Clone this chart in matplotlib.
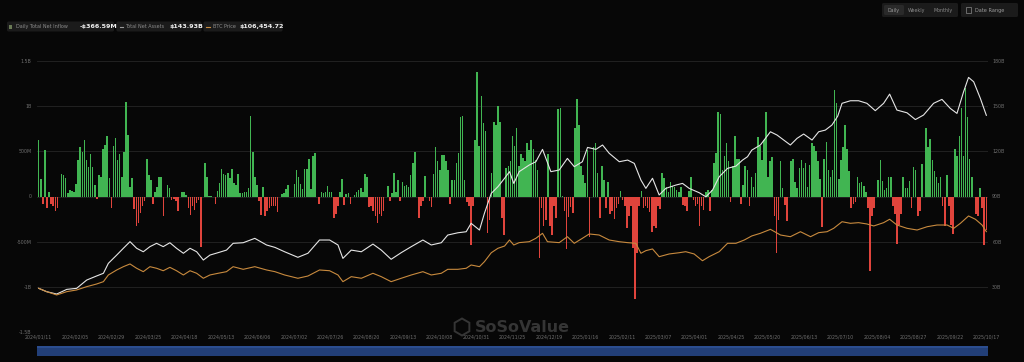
import numpy as np
import matplotlib
matplotlib.use("Agg")
import matplotlib.pyplot as plt
from matplotlib.patches import Rectangle, FancyBboxPatch, RegularPolygon

# Daily total net inflow (M USD)
inflow_2024a = [630, 190, -80, 520, -130, 45, -80, -110, -155, -130,
                0, 250, 240, 200, 35, 75, 65, 55, 140, 400,
                550, 490, 630, 400, 330, 470, 325, 130, -30, 240,
                220, 525, 575, 665, 200, -130, 560, 650, 400, 475,
                215, 495, 1045, 685, 100, 200, -140, -325, -290, -185,
                -110, -55, 415, 240, 185, -80, 45, 110, 220, 215,
                -220, 0, 130, 90, -37, -30, -55, -165, 0, 55,
                55, 18, -130, -200, -110, -150, -75, -37, -560, 0,
                375, 215, 5, 5, -5, -80, 65, 150, 305, 250,
                240, 260, 200, 305, 150, 130, 250, 35, 35, 45,
                45, 90, 890, 490, 215, 130, -55, -200, 100, -220,
                -165, -130, -110, -110]
inflow_2024b = [-110, -175, 0, 30, 35, 80, 125, -7, -7, 140,
                295, 220, 140, 80, 305, 305, 420, 80, 445,
                480, 0, -80, 45, 35, 45, 120, 45, 45,
                -240, -195, -110, 45, 190, -95, 30, 35, -80, 0,
                22, 55, 75, 90, 45, 250, 215, -120, -110,
                -155, -220, -290, -195, -215, -165, 0, 120, -55, 35,
                260, 50, 185, -55, 155, 120, 130, 110, 240,
                370, 490, 0, -240, -110, -45, 230, 0, -55,
                -120, 250, 550, 390, 295, 460, 460, 390, 295, -80,
                185, 185, 375, 480, 880, 895, 185, -65, -100, -535,
                -100, 630, 1375, 555, 1115, 815, 720, -400, -260, 260,
                830, 795, 1005, 830, -240, -425]
inflow_2025a = [315, 335, 390, 675, 560, 760, 340, 475, 425, 390,
                590, 510, 630, 525, 405, 295, -685, -130, -325, -260,
                475, -330, -425, -110, -240, 970, 980, 5, -165, -585,
                -230, -120, -185, 760, 1075, 795, 340, 240, 150, 510,
                -445, 0, 550, 590, 260, -240, 335, 185, -130,
                165, -195, -165, -250, -130, -80, 65, -37, -110, -350,
                -220, -110, -575, -1140, -630, -110, 65, -130, -110, -130,
                -175, -390, -330, -350, -110, -140, 265, 200, 110,
                55, 165, 120, 100, 75, 55, 110, -90, -100, -165,
                65, 220, -37, -110, -80, -325, -110, -150, 55, 75,
                -165, 75, 375, 480, 930, 915, 295, 445, 590,
                390, -65, 335, 675, 415, 415, -80, 130, 335, 295]
inflow_2025b = [-100, 215, 110, 260, 660, 555, 405, 630, 930, 215,
                390, 435, -220, -620, -265, 390, 90, -90, -275, 0,
                390, 415, 165, 90, 315, 405, 315, 375, 110, 350,
                590, 555, 500, 390, 190, -340, 415, 600, 295,
                215, 295, 1175, 1035, 190, 405, 550, 795, 525, 280,
                -130, -80, -65, 220, 150, 165, 120, 55, -130,
                -820, -220, -130, 0, 185, 405, 175, 75, 90, 220,
                220, -110, -195, -525, -315, -195, 220, 90, 90,
                175, -130, 325, 295, -220, -165, 360, 0, 760,
                550, 635, 405, 280, 220, 150, 215, -100, -330, 240,
                -110, -315, -415, 525, 445, 675, 980, 445, 1200, 880,
                415, 220, 0, -195, -220, 90, -130, -535, -367]
inflow = np.array(inflow_2024a + inflow_2024b + inflow_2025a + inflow_2025b) / 1000.0  # in B

# Total net assets (B USD), sampled along the trading-day scale 0..442
nav_day = [0, 3.7, 8.4, 13.1, 17.7, 22.4, 27.0, 30.2, 32.5, 36.4, 39.5, 42.6, 45.7, 48.8, 51.9,
           55.0, 58.1, 61.2, 64.3, 67.5, 70.6, 73.7, 76.8, 79.9, 83.7, 87.6, 90.7, 95.4, 100.8,
           106.3, 110.2,
           114.7, 120.9, 125.6, 131.0, 135.7, 139.6, 141.9, 145.8, 150.5, 155.9, 159.8, 164.4,
           169.1, 173.8, 179.2, 183.1, 187.8, 190.8, 195.5, 199.4, 201.7, 205.6, 207.9, 211.1,
           214.2, 217.3, 219.6, 221.6,
           224.1, 228.8, 231.9, 235.0, 238.9, 242.8, 246.6, 249.8, 253.6, 256.0, 259.9, 263.0,
           266.1, 270.8, 274.7, 277.8, 280.9, 283.2, 286.3, 289.4, 292.5, 297.2, 300.3, 303.4,
           308.1, 311.2, 314.3, 317.4, 321.3, 325.2, 328.3, 330.6, 332.6,
           336.6, 341.3, 344.4, 347.5, 350.6, 353.7, 356.8, 360.7, 363.8, 366.9, 370.0, 372.7,
           374.7, 378.6, 382.4, 386.3, 390.2, 394.1, 396.9, 400.3, 405.0, 408.9, 412.7, 417.4,
           421.3, 425.2, 428.3, 431.4, 433.7, 436.1, 439.2, 442]
nav_b = [29.0, 26.8, 25.2, 28.3, 29.0, 34.5, 37.2, 39.0, 45.6, 51.1, 55.6, 60.0, 55.6, 53.3, 56.7,
         58.9, 56.7, 59.3, 55.6, 52.3, 55.6, 53.3, 47.8, 51.1, 52.7, 54.4, 58.9, 59.3, 62.2,
         57.8, 56.2,
         53.3, 49.6, 52.3, 61.1, 61.1, 57.8, 48.9, 54.4, 53.3, 58.4, 54.4, 48.3,
         52.7, 56.7, 61.1, 57.8, 59.3, 64.4, 65.9, 66.6, 72.2, 67.7, 78.8, 92.1,
         96.5, 102.1, 106.5, 98.7,
         106.5, 110.9, 113.1, 121.3, 106.5, 107.6, 115.3, 109.8, 113.1, 122.6, 121.3, 124.2,
         118.7, 113.1, 114.2, 112.0, 100.9, 95.4, 102.1, 91.0, 95.4, 97.6, 98.7, 95.4,
         92.5, 89.8, 94.3, 103.1, 108.7, 110.2, 114.2, 116.4, 120.8,
         124.2, 133.0, 130.8, 127.5, 124.2, 128.6, 131.5, 127.5, 133.0, 134.1, 137.5, 143.4,
         151.9, 153.6, 153.6, 151.9, 147.0, 151.9, 158.0, 147.4, 145.6, 141.1, 144.1, 151.9,
         154.5, 148.5, 145.2, 159.6, 169.1, 166.2, 155.2, 143.93]

# BTC price (thousand USD)
btc_day = [0, 3.7, 8.4, 13.1, 17.7, 22.4, 27.0, 30.2, 32.5, 36.4, 39.5, 42.6, 45.7, 48.8, 51.9,
           55.0, 58.1, 61.2, 64.3, 67.5, 70.6, 73.7, 76.8, 79.9, 83.7, 87.6, 90.7, 95.4, 100.8,
           106.3, 110.2,
           114.7, 120.9, 125.6, 131.0, 135.7, 139.6, 141.9, 145.8, 150.5, 155.9, 159.8, 164.4,
           169.1, 173.8, 179.2, 183.1, 187.8, 190.8, 195.5, 199.4, 201.7, 205.6, 207.9, 211.1,
           214.2, 217.3, 219.6, 221.6,
           224.1, 228.8, 231.9, 235.0, 237.3, 242.8, 246.6, 249.8, 253.6, 256.8, 261.4, 266.1,
           270.8, 274.7, 278.5, 280.9, 283.2, 286.3, 289.4, 294.1, 298.7, 301.8, 305.7, 309.6,
           312.7, 317.4, 321.3, 325.2, 329.1, 332.6,
           336.6, 341.3, 346.0, 350.6, 355.3, 360.0, 363.8, 367.7, 370.8, 374.7, 378.6, 382.4,
           386.3, 389.5, 394.1, 396.9, 400.3, 405.0, 409.7, 414.4, 419.0, 423.7, 426.8, 429.9,
           433.7, 436.9, 440.0, 442]
btc_k = [46.4, 42.8, 39.3, 42.8, 44.6, 48.1, 50.9, 53.4, 60.5, 65.8, 69.3, 72.2, 67.6, 64.0, 69.3,
         67.6, 65.0, 68.6, 65.0, 60.5, 65.0, 62.3, 57.0, 60.5, 62.3, 64.0, 69.3, 66.5, 69.3,
         65.8, 64.0,
         60.5, 57.0, 59.4, 65.8, 65.0, 60.5, 53.4, 58.7, 57.0, 62.3, 58.7, 53.4,
         57.0, 60.5, 64.0, 60.5, 62.3, 66.5, 66.5, 67.6, 71.1, 69.3, 74.6, 84.1,
         88.8, 91.2, 97.6, 92.3,
         94.8, 95.8, 99.4, 104.7, 95.8, 94.8, 101.1, 94.1, 99.4, 104.0, 102.9, 97.6,
         95.8, 94.8, 94.1, 83.5, 86.3, 88.1, 79.9, 82.8, 84.1, 85.2, 82.8, 75.6,
         79.9, 85.2, 94.1, 94.1, 97.6, 101.9,
         104.7, 108.9, 102.9, 101.1, 106.4, 101.1, 105.4, 106.4, 110.0, 117.0, 115.3, 116.0,
         114.6, 112.5, 116.0, 119.6, 113.5, 110.0, 108.2, 111.7, 113.5, 113.5, 110.0, 115.3,
         123.1, 119.6, 113.5, 106.45]

date_labels = ["2024/01/11", "2024/02/05", "2024/02/29", "2024/03/25", "2024/04/18",
               "2024/05/13", "2024/06/06", "2024/07/02", "2024/07/26", "2024/08/20",
               "2024/09/13", "2024/10/08", "2024/10/31", "2024/11/25", "2024/12/19",
               "2025/01/16", "2025/02/11", "2025/03/07", "2025/04/01", "2025/04/25",
               "2025/05/20", "2025/06/13", "2025/07/10", "2025/08/04", "2025/08/27",
               "2025/09/22", "2025/10/17"]
left_ticks = [1.5, 1, 0.5, 0, -0.5, -1, -1.5]
left_labels = ["1.5B", "1B", "500M", "0", "-500M", "-1B", "-1.5B"]
right_ticks = [180, 150, 120, 90, 60, 30]
right_labels = ["180B", "150B", "120B", "90B", "60B", "30B"]

BG = "#070707"
GREEN = "#41b552"
RED = "#e0443c"
TICK = "#6f6f6f"
W, H = 1024, 362

fig = plt.figure(figsize=(W / 100, H / 100), dpi=100, facecolor=BG)
ax = fig.add_axes([37 / W, 1 - 332 / H, 951 / W, 271 / H])
ax.set_facecolor(BG)

n = len(inflow)
x = np.arange(n)
scale = (n - 1) / 442.0
colors = np.where(inflow >= 0, GREEN, RED)
ax.bar(x, inflow, width=0.75, color=colors, linewidth=0, zorder=2)
ax.set_xlim(-0.8, n - 0.2)
ax.set_ylim(-1.5, 1.5)
ax.set_yticks(left_ticks)
ax.set_yticklabels(left_labels)
ax.grid(axis="y", color="#262626", linewidth=0.6, zorder=0)
ax.set_xticks(np.linspace(0, n - 1, len(date_labels)))
ax.set_xticklabels(date_labels)
ax.tick_params(axis="both", length=0, colors=TICK, labelsize=3.4)
ax.tick_params(axis="y", pad=4)
ax.tick_params(axis="x", pad=1.5)
for s in ax.spines.values():
    s.set_visible(False)

ax2 = ax.twinx()
ax2.set_ylim(0, 180)
ax2.set_yticks(right_ticks)
ax2.set_yticklabels(right_labels)
ax2.tick_params(axis="y", length=0, colors=TICK, labelsize=3.4, pad=3)
ax2.plot(np.array(nav_day) * scale, nav_b, color="#e6e6e6", linewidth=0.8, zorder=4)
for s in ax2.spines.values():
    s.set_visible(False)

ax3 = ax.twinx()
ax3.set_ylim(0, 287.5)
ax3.axis("off")
ax3.plot(np.array(btc_day) * scale, btc_k, color="#c88a3e", linewidth=0.8, zorder=3)

# overlay in pixel coordinates for the header, watermark and scrollbar
ov = fig.add_axes([0, 0, 1, 1], facecolor="none")
ov.set_xlim(0, W)
ov.set_ylim(H, 0)
ov.axis("off")

def box(x0, y0, w, h, fc="#1b1b1b"):
    ov.add_patch(FancyBboxPatch((x0, y0), w, h, boxstyle="round,pad=0,rounding_size=1.5",
                                fc=fc, ec="none"))

# legend chips
box(7, 21.5, 107, 10)
ov.add_patch(Rectangle((9, 24.5), 3, 4, fc="#6a7a55", ec="none"))
ov.text(16, 26.8, "Daily Total Net Inflow", color="#8c8c8c", fontsize=3.5, va="center")
ov.text(80, 26.8, "-$366.59M", color="#f0f0f0", fontsize=4.6, fontweight="bold", va="center")
box(116.5, 21.5, 85, 10)
ov.plot([120, 123], [26.8, 26.8], color="#9a9a9a", lw=0.8)
ov.text(125, 26.8, "Total Net Assets", color="#8c8c8c", fontsize=3.5, va="center")
ov.text(169, 26.8, "$143.93B", color="#f0f0f0", fontsize=4.6, fontweight="bold", va="center")
box(203.5, 21.5, 79, 10)
ov.plot([206, 210], [26.8, 26.8], color="#c88a3e", lw=0.8)
ov.text(213, 26.8, "BTC Price", color="#8c8c8c", fontsize=3.5, va="center")
ov.text(240, 26.8, "$106,454.72", color="#f0f0f0", fontsize=4.6, fontweight="bold", va="center")

# period buttons
box(882, 3, 76, 14)
box(884, 5, 20, 10, fc="#2a2a2a")
ov.text(894, 10.3, "Daily", color="#9a9a9a", fontsize=3.4, ha="center", va="center")
ov.text(917, 10.3, "Weekly", color="#8a8a8a", fontsize=3.4, ha="center", va="center")
ov.text(943, 10.3, "Monthly", color="#8a8a8a", fontsize=3.4, ha="center", va="center")
box(961, 3, 57, 14)
ov.add_patch(Rectangle((966, 6.5), 5, 6, fc="none", ec="#8a8a8a", lw=0.5))
ov.text(975, 10.3, "Date Range", color="#9a9a9a", fontsize=3.6, va="center")

# watermark
ov.add_patch(RegularPolygon((462, 327), 6, radius=8.5, fc="none", ec="#353535", lw=1.4))
ov.text(475, 327, "SoSoValue", color="#353535", fontsize=11.5, fontweight="bold", va="center")

# bottom navigator
ov.add_patch(Rectangle((37, 346), 951, 10, fc="#223f78", ec="none"))
ov.add_patch(Rectangle((37, 346), 951, 2, fc="#2b4d8f", ec="none"))

fig.savefig("out.png", dpi=100, facecolor=BG)
